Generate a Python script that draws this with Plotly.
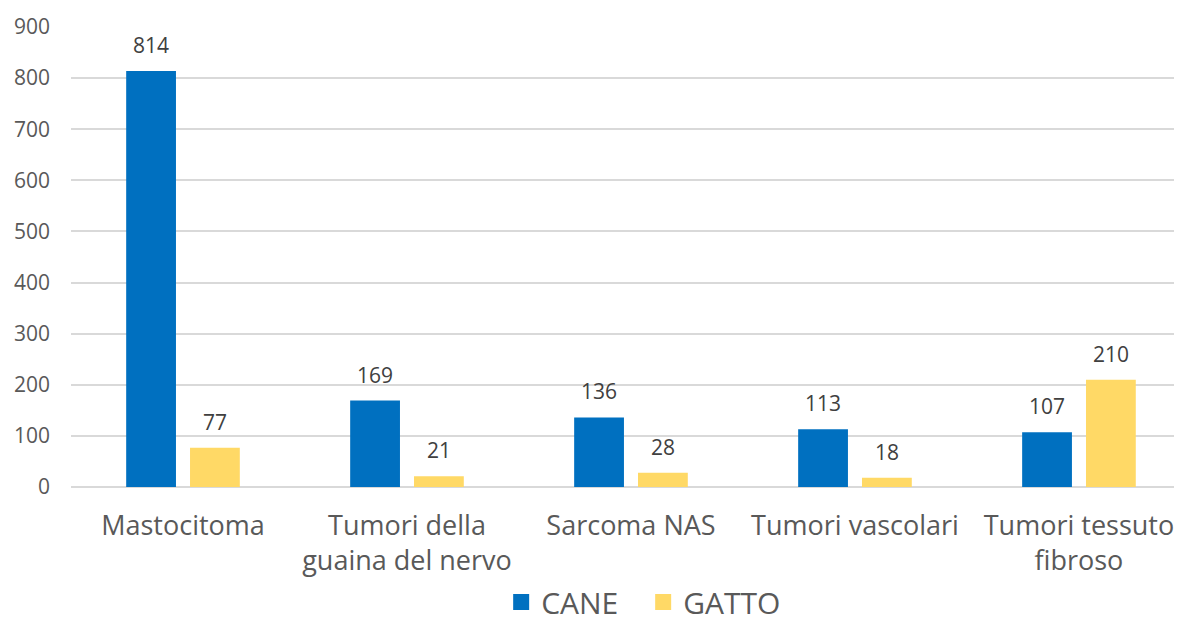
import plotly.graph_objects as go

categories = ['Mastocitoma', 'Tumori della<br>guaina del nervo', 'Sarcoma NAS',
              'Tumori vascolari', 'Tumori tessuto<br>fibroso']
cane = [814, 169, 136, 113, 107]
gatto = [77, 21, 28, 18, 210]
y_ticks = [0, 100, 200, 300, 400, 500, 600, 700, 800, 900]

FONT = 'Open Sans, sans-serif'
BLUE = '#0070C0'
YELLOW = '#FFD966'

fig = go.Figure()
fig.add_trace(go.Bar(x=categories, y=cane, name='CANE', marker_color=BLUE,
                     marker_line_width=0, showlegend=False))
fig.add_trace(go.Bar(x=categories, y=gatto, name='GATTO', marker_color=YELLOW,
                     marker_line_width=0, showlegend=False))
# legend entries with bigger square swatches
for name, col in (('CANE', BLUE), ('GATTO', YELLOW)):
    fig.add_trace(go.Scatter(x=[None], y=[None], mode='markers', name=name,
                             marker=dict(symbol='square', size=20, color=col)))

# value labels above each bar
for series, shift in ((cane, -32), (gatto, 32)):
    for cat, val in zip(categories, series):
        fig.add_annotation(x=cat, y=val, text=str(val), showarrow=False,
                           xshift=shift, yshift=10, yanchor='bottom',
                           font=dict(family=FONT, size=21, color='#404040'))

# page has an 8px body margin, so the figure is 8px smaller than the window
fig.update_layout(
    width=1174, height=609,
    margin=dict(l=63, r=0, t=19, b=130, autoexpand=False),
    paper_bgcolor='white', plot_bgcolor='white',
    barmode='group', bargap=0.43, bargroupgap=0.22,
    font=dict(family=FONT, color='#595959'),
    legend=dict(orientation='h', xanchor='center', x=0.515, yanchor='middle', y=-0.25,
                font=dict(size=30, color='#595959'), itemsizing='trace',
                entrywidth=97, traceorder='normal'),
)
fig.update_xaxes(range=[-0.5, 4.46], tickfont=dict(size=27, color='#595959'),
                 showline=False, ticks='', automargin=False, ticklabelstandoff=20)
fig.update_yaxes(range=[0, 900], tickvals=y_ticks, showgrid=True,
                 gridcolor='#D9D9D9', gridwidth=1.5, zeroline=True,
                 zerolinecolor='#D9D9D9', zerolinewidth=1.5, automargin=False,
                 tickfont=dict(size=21, color='#595959'), ticklabelstandoff=20)

fig.write_html('out.html')
